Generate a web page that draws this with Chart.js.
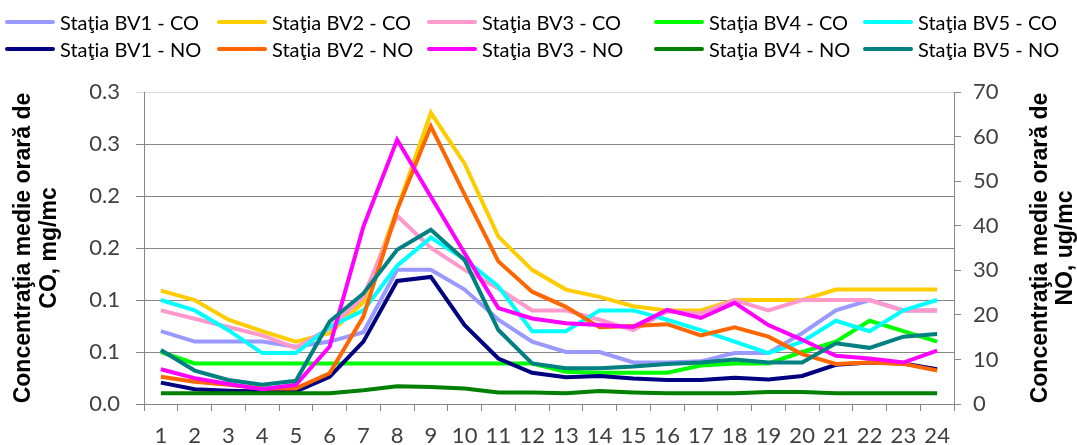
<!DOCTYPE html>
<html>
<head>
<meta charset="utf-8">
<script src="https://cdn.jsdelivr.net/npm/chart.js@4.4.1/dist/chart.umd.min.js"></script>
<style>
  body { margin: 0; background: #fff; }
  #wrap { position: relative; width: 1077px; height: 445px; }
  #chart { position: absolute; left: 0; top: 0; }
  .leg { position: absolute; font-family: Lato, "Open Sans", sans-serif; font-size: 20px; color: #000; white-space: nowrap; line-height: 20px; }
  .leg span.ln { position: absolute; left: 0; top: 8px; width: 50px; height: 4px; border-radius: 2px; }
  .leg span.tx { position: absolute; left: 55px; top: 0; }
</style>
</head>
<body>
<div id="wrap">
  <canvas id="chart" width="1077" height="445"></canvas>
  <div id="legend"></div>
</div>
<script>
const hours = ['1','2','3','4','5','6','7','8','9','10','11','12','13','14','15','16','17','18','19','20','21','22','23','24'];

// CO, mg/mc (axa stanga)
const bv1CO = [0.070, 0.060, 0.060, 0.060, 0.055, 0.060, 0.069, 0.129, 0.129, 0.110, 0.081, 0.060, 0.050, 0.050, 0.040, 0.040, 0.041, 0.049, 0.049, 0.068, 0.090, 0.100, 0.090, 0.090];
const bv2CO = [0.109, 0.100, 0.081, 0.070, 0.060, 0.068, 0.098, 0.187, 0.280, 0.231, 0.161, 0.129, 0.110, 0.103, 0.094, 0.090, 0.090, 0.100, 0.100, 0.100, 0.110, 0.110, 0.110, 0.110];
const bv3CO = [0.090, 0.082, 0.074, 0.066, 0.054, 0.073, 0.103, 0.181, 0.150, 0.129, 0.111, 0.090, 0.090, 0.081, 0.071, 0.089, 0.087, 0.100, 0.090, 0.100, 0.100, 0.100, 0.090, 0.090];
const bv4CO = [0.050, 0.039, 0.039, 0.039, 0.039, 0.039, 0.039, 0.039, 0.039, 0.039, 0.039, 0.039, 0.031, 0.030, 0.030, 0.030, 0.037, 0.039, 0.039, 0.050, 0.060, 0.080, 0.070, 0.060];
const bv5CO = [0.100, 0.090, 0.071, 0.049, 0.049, 0.074, 0.090, 0.133, 0.160, 0.139, 0.113, 0.070, 0.070, 0.090, 0.090, 0.081, 0.071, 0.060, 0.049, 0.060, 0.080, 0.070, 0.090, 0.100];

// NO, ug/mc (axa dreapta)
const bv1NO = [4.8, 3.3, 3.0, 2.8, 2.8, 6.1, 14.0, 27.6, 28.5, 17.7, 10.2, 7.0, 6.0, 6.3, 5.7, 5.4, 5.4, 5.9, 5.5, 6.3, 8.8, 9.3, 9.1, 7.8];
const bv2NO = [6.1, 5.0, 4.3, 3.5, 3.5, 6.9, 19.6, 43.5, 62.3, 47.0, 32.0, 25.2, 21.8, 17.2, 17.5, 17.9, 15.4, 17.2, 15.1, 11.2, 9.0, 9.3, 9.0, 7.5];
const bv3NO = [7.8, 5.8, 4.5, 3.3, 4.3, 12.9, 39.8, 59.3, 46.5, 33.8, 21.5, 19.2, 18.1, 17.7, 17.3, 21.1, 19.3, 22.7, 17.7, 14.4, 10.8, 10.2, 9.3, 12.0];
const bv4NO = [2.4, 2.4, 2.4, 2.4, 2.4, 2.4, 3.1, 4.0, 3.8, 3.5, 2.6, 2.6, 2.4, 2.9, 2.6, 2.4, 2.4, 2.4, 2.7, 2.7, 2.4, 2.4, 2.4, 2.4];
const bv5NO = [12.1, 7.5, 5.4, 4.3, 5.2, 18.5, 24.8, 34.6, 39.1, 32.3, 16.6, 9.1, 8.0, 8.0, 8.4, 9.0, 9.3, 10.0, 9.3, 9.3, 13.6, 12.6, 15.1, 15.7];

const leftTickLabels = ['0.0', '0.1', '0.1', '0.2', '0.2', '0.3', '0.3'];
const rightTickLabels = ['0', '10', '20', '30', '40', '50', '60', '70'];
const leftTitle = ['Concentraţia medie orară de', 'CO, mg/mc'];
const rightTitle = ['Concentraţia medie orară de', 'NO, ug/mc'];

const series = [
    { label: 'Staţia BV1 - CO', data: bv1CO, color: '#9999FF', axis: 'y' },
    { label: 'Staţia BV2 - CO', data: bv2CO, color: '#FFCC00', axis: 'y' },
    { label: 'Staţia BV3 - CO', data: bv3CO, color: '#FF99CC', axis: 'y' },
    { label: 'Staţia BV4 - CO', data: bv4CO, color: '#00FF00', axis: 'y' },
    { label: 'Staţia BV5 - CO', data: bv5CO, color: '#00FFFF', axis: 'y' },
    { label: 'Staţia BV1 - NO', data: bv1NO, color: '#000080', axis: 'y2' },
    { label: 'Staţia BV2 - NO', data: bv2NO, color: '#FF6600', axis: 'y2' },
    { label: 'Staţia BV3 - NO', data: bv3NO, color: '#FF00FF', axis: 'y2' },
    { label: 'Staţia BV4 - NO', data: bv4NO, color: '#008000', axis: 'y2' },
    { label: 'Staţia BV5 - NO', data: bv5NO, color: '#008080', axis: 'y2' }
];

// legenda: 2 randuri x 5 coloane
const legX = [5, 217, 427, 654, 863];
const legY = [12, 39];
const legend = document.getElementById('legend');
series.forEach(function (s, i) {
    const d = document.createElement('div');
    d.className = 'leg';
    d.style.left = legX[i % 5] + 'px';
    d.style.top = legY[Math.floor(i / 5)] + 'px';
    d.innerHTML = '<span class="ln" style="background:' + s.color + '"></span><span class="tx">' + s.label + '</span>';
    legend.appendChild(d);
});

const titles = {
    id: 'axisTitles',
    afterDraw(chart) {
        const ctx = chart.ctx;
        const cy = (chart.chartArea.top + chart.chartArea.bottom) / 2;
        ctx.save();
        ctx.font = 'bold 23px "Liberation Sans", Arial, sans-serif';
        ctx.fillStyle = '#000';
        ctx.textAlign = 'center';
        ctx.textBaseline = 'middle';
        const put = function (t, x) {
            ctx.save();
            ctx.translate(x, cy);
            ctx.rotate(-Math.PI / 2);
            ctx.fillText(t, 0, 0);
            ctx.restore();
        };
        put(leftTitle[0], 24);
        put(leftTitle[1], 50);
        put(rightTitle[0], 1041);
        put(rightTitle[1], 1066);
        ctx.restore();
    }
};

const gray = '#868686';
const tickFont = { family: 'Lato, "Open Sans", sans-serif', size: 22 };

new Chart(document.getElementById('chart').getContext('2d'), {
    type: 'line',
    data: {
        labels: hours,
        datasets: series.map(function (s, i) {
            return {
                label: s.label,
                data: s.data,
                yAxisID: s.axis,
                borderColor: s.color,
                backgroundColor: s.color,
                borderWidth: 4,
                pointRadius: 0,
                fill: false,
                tension: 0,
                order: series.length - i
            };
        })
    },
    options: {
        responsive: false,
        animation: false,
        layout: { padding: { top: 92, left: 0, right: 0, bottom: 0 } },
        plugins: {
            legend: { display: false },
            tooltip: { enabled: false }
        },
        scales: {
            x: {
                type: 'category',
                offset: true,
                afterFit: function (s) { s.height = 41; },
                grid: { offset: true, drawOnChartArea: false, color: gray, tickLength: 7 },
                border: { color: gray },
                ticks: { font: tickFont, color: '#404040', padding: 12, maxRotation: 0, autoSkip: false }
            },
            y: {
                position: 'left',
                min: 0,
                max: 0.3,
                afterFit: function (s) { s.width = 144; },
                grid: {
                    color: function (c) { return c.tick && c.tick.value >= 0.299 ? '#d9d9d9' : gray; },
                    tickLength: 8
                },
                border: { color: gray },
                ticks: {
                    stepSize: 0.05,
                    font: tickFont,
                    color: '#404040',
                    padding: 16,
                    callback: function (v, i) { return leftTickLabels[i]; }
                }
            },
            y2: {
                position: 'right',
                min: 0,
                max: 70,
                afterFit: function (s) { s.width = 123; },
                grid: { drawOnChartArea: false, color: gray, tickLength: 7 },
                border: { color: gray },
                ticks: {
                    stepSize: 10,
                    font: tickFont,
                    color: '#404040',
                    padding: 12,
                    callback: function (v, i) { return rightTickLabels[i]; }
                }
            }
        }
    },
    plugins: [titles]
});
</script>
</body>
</html>
